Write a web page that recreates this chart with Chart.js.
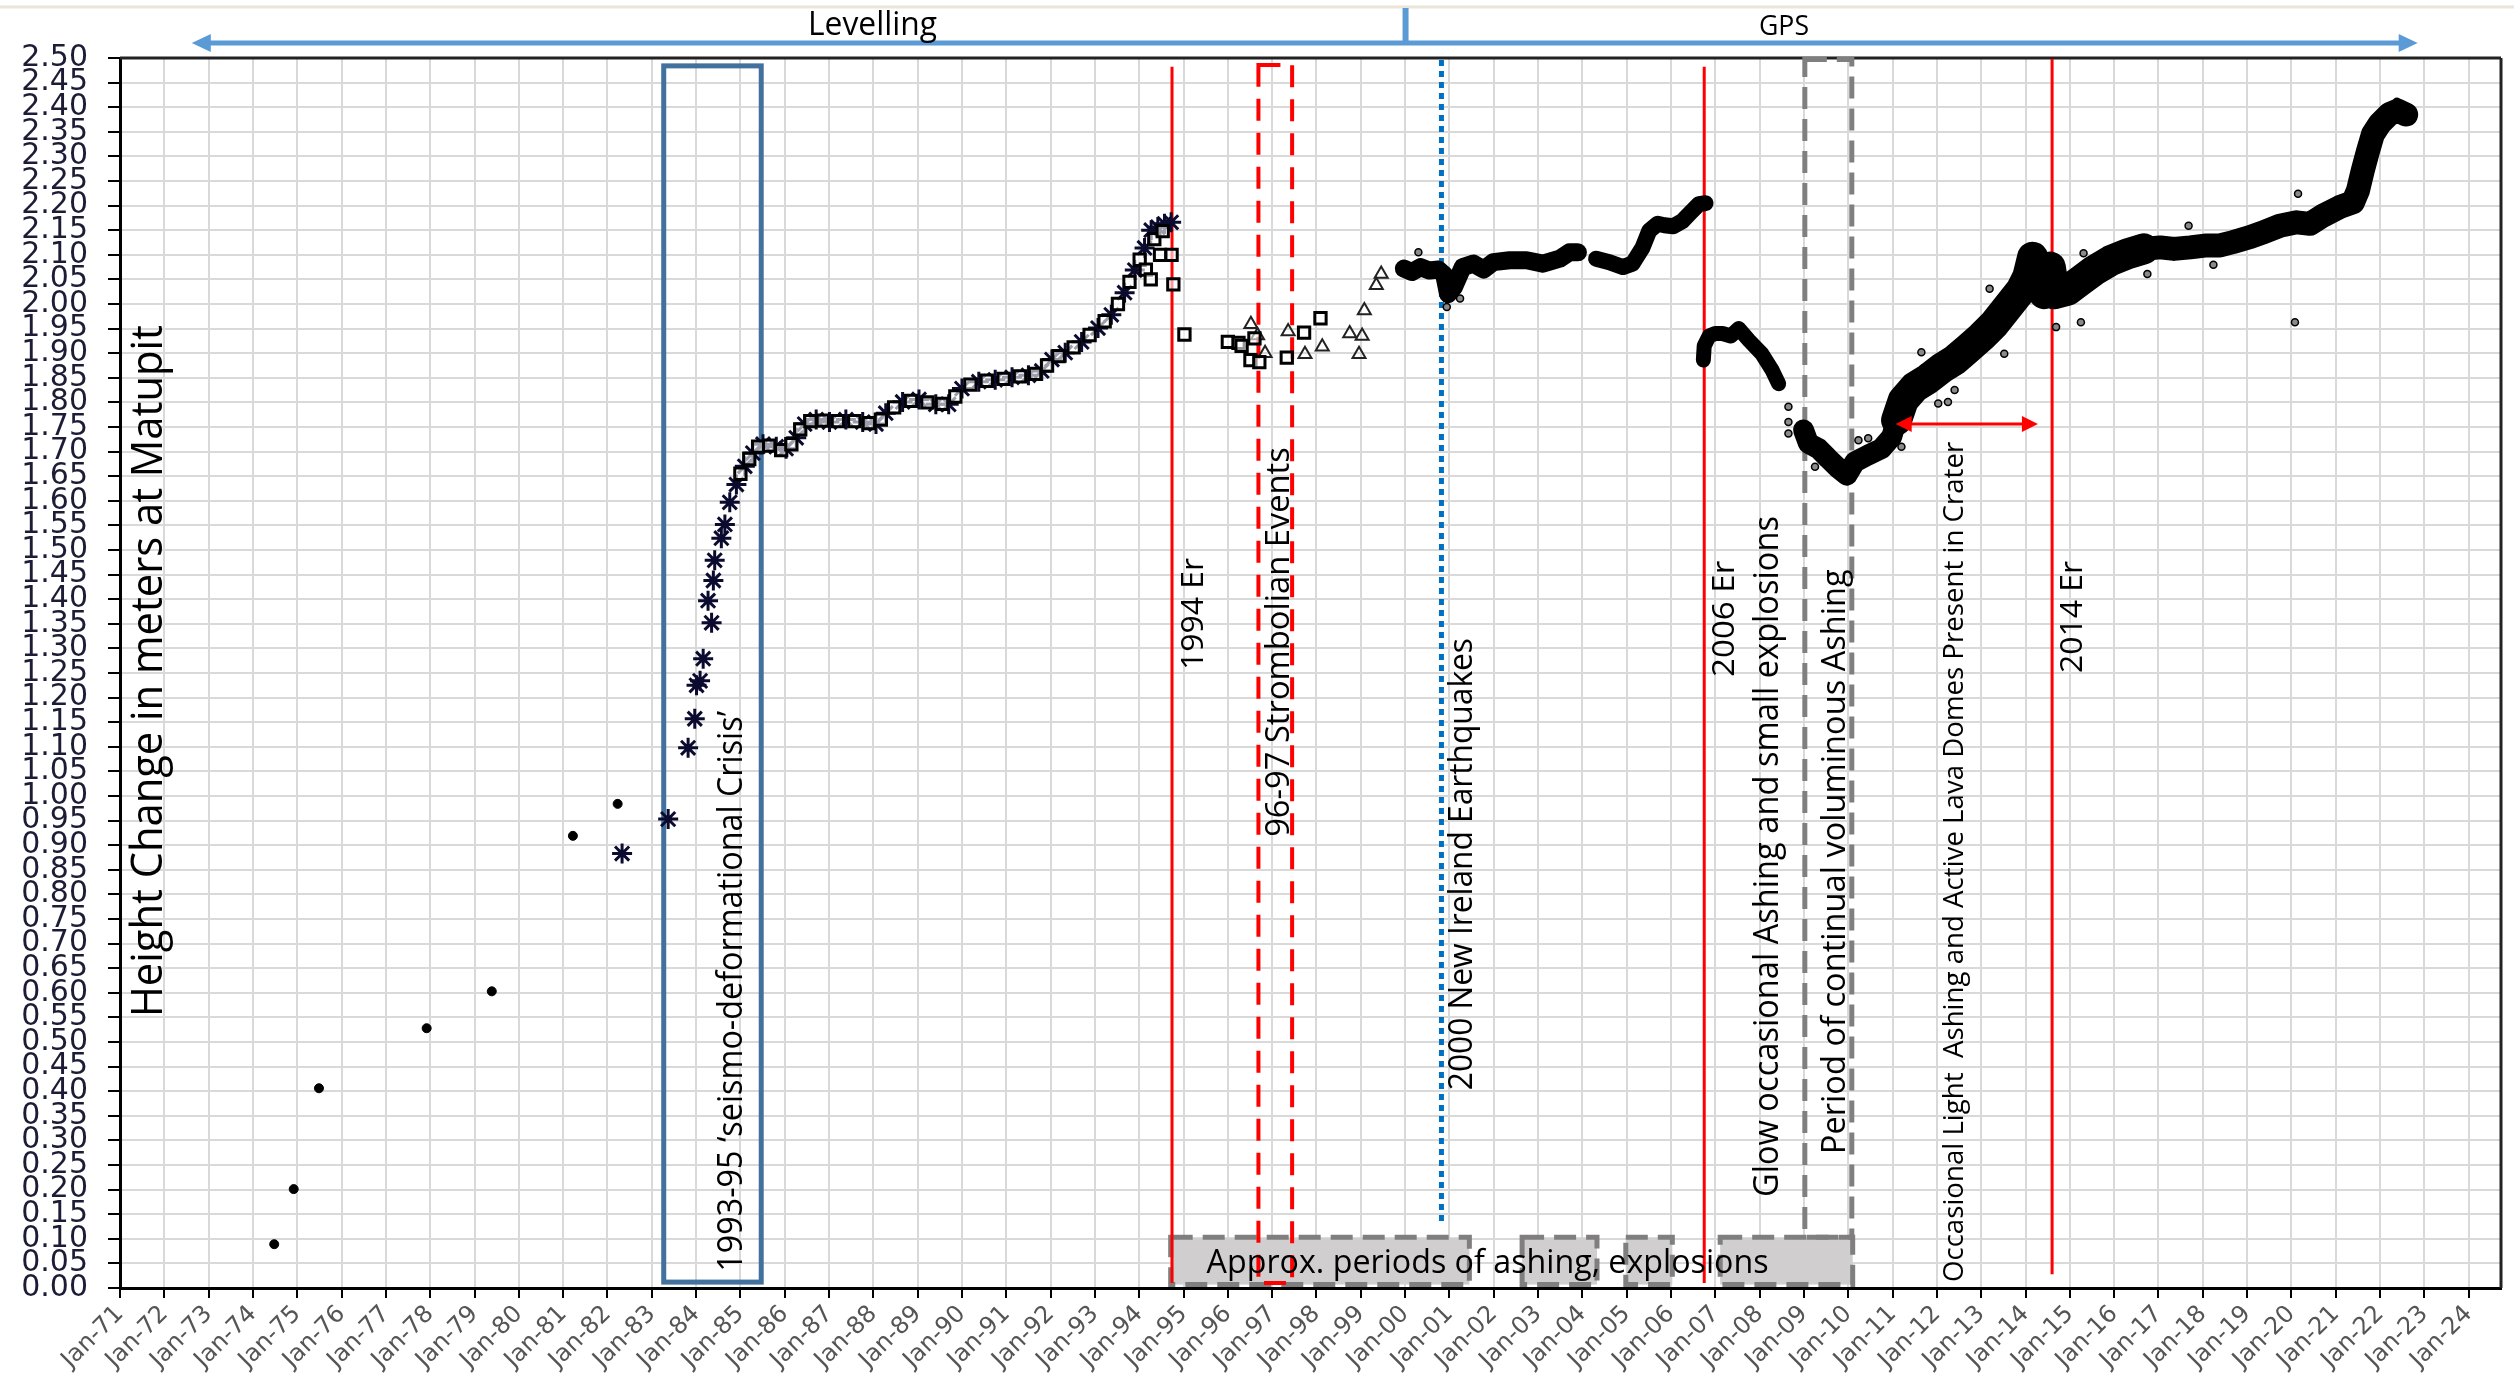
<!DOCTYPE html>
<html>
<head>
<meta charset="utf-8">
<script src="https://cdn.jsdelivr.net/npm/chart.js@4.4.1/dist/chart.umd.min.js"></script>
<style>
  html, body { margin: 0; padding: 0; background: #fff; }
  canvas { display: block; }
</style>
</head>
<body>
<canvas id="chart" width="2514" height="1385"></canvas>
<script>
// tick labels
const xTickLabels = ['Jan-71','Jan-72','Jan-73','Jan-74','Jan-75','Jan-76','Jan-77','Jan-78','Jan-79','Jan-80',
  'Jan-81','Jan-82','Jan-83','Jan-84','Jan-85','Jan-86','Jan-87','Jan-88','Jan-89','Jan-90',
  'Jan-91','Jan-92','Jan-93','Jan-94','Jan-95','Jan-96','Jan-97','Jan-98','Jan-99','Jan-00',
  'Jan-01','Jan-02','Jan-03','Jan-04','Jan-05','Jan-06','Jan-07','Jan-08','Jan-09','Jan-10',
  'Jan-11','Jan-12','Jan-13','Jan-14','Jan-15','Jan-16','Jan-17','Jan-18','Jan-19','Jan-20',
  'Jan-21','Jan-22','Jan-23','Jan-24'];
const yTickLabels = ['0.00','0.05','0.10','0.15','0.20','0.25','0.30','0.35','0.40','0.45',
  '0.50','0.55','0.60','0.65','0.70','0.75','0.80','0.85','0.90','0.95',
  '1.00','1.05','1.10','1.15','1.20','1.25','1.30','1.35','1.40','1.45',
  '1.50','1.55','1.60','1.65','1.70','1.75','1.80','1.85','1.90','1.95',
  '2.00','2.05','2.10','2.15','2.20','2.25','2.30','2.35','2.40','2.45','2.50'];

// early levelling (dots)
const levYears = [1974.48, 1974.92, 1975.49, 1977.92, 1979.39, 1981.22, 1982.23];
const levVals  = [0.089, 0.201, 0.406, 0.528, 0.603, 0.919, 0.984];

// levelling asterisks
const starYears = [1982.33, 1983.37, 1983.82, 1983.97, 1984.01, 1984.09, 1984.16, 1984.27, 1984.35, 1984.39,
  1984.42, 1984.57, 1984.65, 1984.76, 1984.91, 1985.10, 1985.28, 1985.51, 1985.81, 1986.03,
  1986.26, 1986.45, 1986.71, 1987.01, 1987.38, 1987.76, 1988.06, 1988.28, 1988.66, 1989.03,
  1989.41, 1989.70, 1990.00, 1990.38, 1990.75, 1991.13, 1991.50, 1991.80, 1992.03, 1992.33,
  1992.70, 1993.07, 1993.37, 1993.67, 1993.90, 1994.12, 1994.27, 1994.42, 1994.57, 1994.72];
const starVals = [0.883, 0.953, 1.098, 1.157, 1.225, 1.234, 1.279, 1.397, 1.352, 1.438,
  1.479, 1.524, 1.552, 1.597, 1.633, 1.670, 1.697, 1.715, 1.710, 1.706,
  1.728, 1.756, 1.765, 1.760, 1.765, 1.760, 1.756, 1.778, 1.801, 1.806,
  1.796, 1.796, 1.828, 1.842, 1.846, 1.851, 1.855, 1.864, 1.887, 1.901,
  1.923, 1.951, 1.978, 2.023, 2.069, 2.114, 2.150, 2.156, 2.163, 2.166];

// levelling squares
const sqYears = [1985.00, 1985.20, 1985.40, 1985.65, 1985.92, 1986.15, 1986.35, 1986.58, 1986.86, 1987.20,
  1987.57, 1987.90, 1988.17, 1988.47, 1988.85, 1989.22, 1989.55, 1989.85, 1990.19, 1990.56,
  1990.94, 1991.31, 1991.65, 1991.92, 1992.18, 1992.52, 1992.88, 1993.22, 1993.52, 1993.78,
  1994.01, 1994.15, 1994.26, 1994.34, 1994.47, 1994.53, 1994.73, 1994.77,
  1995.02, 1996.00, 1996.24, 1996.31, 1996.51, 1996.60, 1996.71, 1997.33, 1997.72, 1998.09];
const sqVals = [1.655, 1.685, 1.710, 1.712, 1.703, 1.715, 1.745, 1.762, 1.763, 1.762,
  1.762, 1.758, 1.765, 1.790, 1.803, 1.800, 1.797, 1.812, 1.836, 1.844,
  1.848, 1.853, 1.858, 1.875, 1.894, 1.912, 1.937, 1.965, 2.000, 2.045,
  2.090, 2.070, 2.050, 2.132, 2.100, 2.148, 2.100, 2.040,
  1.938, 1.923, 1.921, 1.915, 1.886, 1.930, 1.882, 1.891, 1.942, 1.971];

// triangles 1996-1999
const triYears = [1996.52, 1996.67, 1996.84, 1997.36, 1997.74, 1998.13, 1998.75, 1998.96, 1999.03, 1999.08, 1999.35, 1999.46];
const triVals  = [1.959, 1.936, 1.900, 1.944, 1.898, 1.913, 1.940, 1.898, 1.935, 1.987, 2.038, 2.061];

// GPS segments
const gpsAYears = [1999.97, 2000.15, 2000.35, 2000.55, 2000.75, 2000.88, 2000.97, 2001.10, 2001.30, 2001.54,
  2001.77, 2001.99, 2002.36, 2002.74, 2003.11, 2003.49, 2003.71, 2003.90];
const gpsAVals = [2.072, 2.065, 2.075, 2.068, 2.070, 2.060, 2.020, 2.034, 2.075, 2.082,
  2.070, 2.085, 2.089, 2.089, 2.082, 2.092, 2.105, 2.105];

const gpsBYears = [2004.31, 2004.61, 2004.91, 2005.13, 2005.36, 2005.51, 2005.70, 2005.85, 2006.05, 2006.25, 2006.41, 2006.63, 2006.78];
const gpsBVals  = [2.092, 2.085, 2.075, 2.082, 2.115, 2.149, 2.163, 2.160, 2.158, 2.168, 2.183, 2.203, 2.205];

const gpsCYears = [2006.73, 2006.75, 2006.86, 2007.00, 2007.16, 2007.35, 2007.53, 2007.76, 2008.05, 2008.28, 2008.43];
const gpsCVals  = [1.886, 1.915, 1.935, 1.940, 1.940, 1.935, 1.950, 1.926, 1.899, 1.866, 1.838];

const gpsD1Years = [2008.99, 2009.10, 2009.33, 2009.55, 2009.78, 2009.97, 2010.15, 2010.45, 2010.75, 2010.98, 2011.09];
const gpsD1Vals  = [1.744, 1.717, 1.706, 1.686, 1.666, 1.652, 1.679, 1.693, 1.706, 1.730, 1.764];

const gpsD2Years = [2011.09, 2011.24, 2011.50, 2011.80, 2012.10, 2012.40, 2012.70, 2013.00, 2013.30, 2013.60,
  2013.90, 2014.05, 2014.16, 2014.27, 2014.42, 2014.56, 2014.65, 2014.95, 2015.25, 2015.55,
  2015.92, 2016.30, 2016.67];
const gpsD2Vals = [1.764, 1.804, 1.831, 1.848, 1.869, 1.886, 1.909, 1.933, 1.960, 1.994,
  2.028, 2.055, 2.095, 2.048, 2.021, 2.075, 2.021, 2.028, 2.048, 2.068,
  2.088, 2.102, 2.112];

const gpsEYears = [2016.67, 2017.04, 2017.35, 2017.72, 2018.09, 2018.39, 2018.69, 2019.07, 2019.37, 2019.74,
  2020.12, 2020.42, 2020.72, 2021.09, 2021.39, 2021.50, 2021.61, 2021.73, 2021.84, 2021.99,
  2022.21, 2022.40, 2022.59];
const gpsEVals = [2.112, 2.115, 2.112, 2.115, 2.119, 2.119, 2.126, 2.136, 2.146, 2.159,
  2.166, 2.163, 2.180, 2.197, 2.207, 2.230, 2.271, 2.311, 2.345, 2.366,
  2.386, 2.393, 2.385];

// scattered GPS points off the main trend
const gpsOutYears = [2000.30, 2000.94, 2001.24, 2008.65, 2008.65, 2008.65, 2009.25, 2010.23, 2010.45, 2011.20,
  2011.28, 2011.65, 2011.69, 2012.03, 2012.25, 2012.40, 2013.19, 2013.52, 2013.64, 2014.69,
  2015.25, 2015.31, 2015.51, 2016.75, 2017.68, 2018.24, 2020.08, 2020.15, 2022.38];
const gpsOutVals = [2.105, 1.994, 2.011, 1.791, 1.760, 1.737, 1.669, 1.723, 1.727, 1.710,
  1.838, 1.902, 1.869, 1.798, 1.801, 1.825, 2.031, 1.899, 2.031, 1.953,
  1.963, 2.103, 2.088, 2.061, 2.159, 2.080, 1.963, 2.224, 2.411];

const pts = (xs, ys) => xs.map((x, i) => ({ x: x, y: ys[i] }));

// overlays, in axis units
const erLines = [1994.74, 2006.75, 2014.60];
const ashBoxes = [[1994.71, 2001.45], [2002.64, 2004.33], [2004.98, 2006.03], [2007.11, 2010.10]];
const vText = [
  { t: '1993-95 \u2018seismo-deformational Crisis\u2019', x: 1985.04, v0: 0.033, v1: 1.173, s: 34 },
  { t: '1994 Er', x: 1995.43, v0: 1.256, v1: 1.484, s: 31 },
  { t: '96-97 Strombolian Events', x: 1997.38, v0: 0.917, v1: 1.709, s: 32 },
  { t: '2000 New Ireland Earthquakes', x: 2001.50, v0: 0.402, v1: 1.321, s: 32 },
  { t: '2006 Er', x: 2007.43, v0: 1.242, v1: 1.478, s: 31 },
  { t: 'Glow occasional Ashing and small explosions', x: 2008.42, v0: 0.185, v1: 1.569, s: 34 },
  { t: 'Period of continual voluminous Ashing', x: 2009.92, v0: 0.272, v1: 1.461, s: 33 },
  { t: 'Occasional Light  Ashing and Active Lava Domes Present in Crater', x: 2012.60, v0: 0.012, v1: 1.720, s: 28 },
  { t: '2014 Er', x: 2015.27, v0: 1.250, v1: 1.478, s: 31 },
  { t: 'Height Change in meters at Matupit', x: 1971.94, v0: 0.551, v1: 1.957, s: 44 }
];

function drawText(ctx, str, x, y, size, len, rot) {
  ctx.save();
  ctx.font = size + 'px "Open Sans"';
  const w = ctx.measureText(str).width;
  ctx.translate(x, y);
  if (rot) ctx.rotate(-Math.PI / 2);
  ctx.scale(len / w, 1);
  ctx.fillStyle = '#000';
  ctx.textAlign = 'left';
  ctx.textBaseline = 'alphabetic';
  ctx.fillText(str, 0, 0);
  ctx.restore();
}

function seg(ctx, x0, y0, x1, y1, color, width, dash) {
  ctx.save();
  ctx.strokeStyle = color;
  ctx.lineWidth = width;
  ctx.setLineDash(dash || []);
  ctx.beginPath();
  ctx.moveTo(x0, y0);
  ctx.lineTo(x1, y1);
  ctx.stroke();
  ctx.restore();
}

function box(ctx, x0, y0, x1, y1, color, width, dash, fill) {
  ctx.save();
  if (fill) {
    ctx.fillStyle = fill;
    ctx.fillRect(x0, y0, x1 - x0, y1 - y0);
  }
  ctx.strokeStyle = color;
  ctx.lineWidth = width;
  ctx.setLineDash(dash || []);
  ctx.strokeRect(x0, y0, x1 - x0, y1 - y0);
  ctx.restore();
}

function arrowHead(ctx, x, y, dir, len, half, color) {
  ctx.save();
  ctx.fillStyle = color;
  ctx.beginPath();
  ctx.moveTo(x, y);
  ctx.lineTo(x - dir * len, y - half);
  ctx.lineTo(x - dir * len, y + half);
  ctx.closePath();
  ctx.fill();
  ctx.restore();
}

const overlays = {
  id: 'overlays',
  beforeDatasetsDraw(chart) {
    const ctx = chart.ctx;
    const X = v => chart.scales.x.getPixelForValue(v);
    const Y = v => chart.scales.y.getPixelForValue(v);
    const a = chart.chartArea;

    // plot frame top / right
    seg(ctx, a.left, a.top, a.right, a.top, '#222', 3);
    seg(ctx, a.right, a.top, a.right, a.bottom, '#222', 3);

    // ashing periods
    ashBoxes.forEach(b => box(ctx, X(b[0]), Y(0.103), X(b[1]), Y(0.007), '#7f7f7f', 5, [22, 10], '#d0cece'));
    // continual ashing column
    box(ctx, X(2009.02), Y(2.497), X(2010.08), Y(0.103), '#7f7f7f', 5, [22, 10]);

    // crisis box
    box(ctx, X(1983.27), Y(2.484), X(1985.47), Y(0.012), '#41719c', 5);
    // strombolian box
    box(ctx, X(1996.69), Y(2.486), X(1997.45), Y(0.010), '#ff0000', 4, [22, 12]);
    // eruptions
    erLines.forEach((e, i) => seg(ctx, X(e), Y(i === 2 ? 2.498 : 2.482), X(e), Y(i === 2 ? 0.028 : 0.010), '#ff0000', 3));
    // New Ireland earthquakes
    seg(ctx, X(2000.82), Y(2.496), X(2000.82), Y(0.132), '#0070c0', 5, [6, 5]);
  },
  afterDatasetsDraw(chart) {
    const ctx = chart.ctx;
    const X = v => chart.scales.x.getPixelForValue(v);
    const Y = v => chart.scales.y.getPixelForValue(v);
    const a = chart.chartArea;

    // lava dome arrow
    const ay = Y(1.756);
    seg(ctx, X(2011.07) + 12, ay, X(2014.28) - 12, ay, '#ff0000', 3);
    arrowHead(ctx, X(2011.07), ay, -1, 16, 8, '#ff0000');
    arrowHead(ctx, X(2014.28), ay, 1, 16, 8, '#ff0000');

    vText.forEach(t => {
      const y0 = Y(t.v0);
      drawText(ctx, t.t, X(t.x), y0, t.s, y0 - Y(t.v1), true);
    });
    drawText(ctx, 'Approx. periods of ashing, explosions', X(1995.52), Y(0.030), 33, 562, false);

    // top band: levelling / GPS
    seg(ctx, 0, 7, chart.width, 7, '#ece3d9', 3);
    const ty = a.top - 15;
    seg(ctx, X(1972.62) + 14, ty, X(2022.85) - 14, ty, '#5b9bd5', 5);
    arrowHead(ctx, X(1972.62), ty, -1, 19, 9, '#5b9bd5');
    arrowHead(ctx, X(2022.85), ty, 1, 19, 9, '#5b9bd5');
    seg(ctx, X(2000.01), 8, X(2000.01), ty + 2, '#5b9bd5', 6);
    drawText(ctx, 'Levelling', X(1987.97) - 64, a.top - 23, 32, 129, false);
    drawText(ctx, 'GPS', X(2008.55) - 25, a.top - 23, 27, 50, false);
  }
};

function band(xs, ys, w) {
  return {
    data: pts(xs, ys),
    showLine: true,
    borderColor: '#000',
    borderWidth: w,
    borderJoinStyle: 'round',
    borderCapStyle: 'round',
    pointRadius: 0,
    tension: 0
  };
}

const chart = new Chart(document.getElementById('chart'), {
  type: 'scatter',
  data: {
    datasets: [
      { data: pts(levYears, levVals), pointStyle: 'circle', pointRadius: 4.5, backgroundColor: '#000', borderColor: '#000', borderWidth: 1 },
      band(gpsAYears, gpsAVals, 18),
      band(gpsBYears, gpsBVals, 16),
      band(gpsCYears, gpsCVals, 15),
      band(gpsD1Years, gpsD1Vals, 21),
      band(gpsD2Years, gpsD2Vals, 31),
      band(gpsEYears, gpsEVals, 24),
      { data: pts(gpsOutYears, gpsOutVals), pointStyle: 'circle', pointRadius: 3.5, backgroundColor: '#8a8a8a', borderColor: '#000', borderWidth: 1.5 },
      { data: pts(sqYears, sqVals), pointStyle: 'rect', pointRadius: 8, backgroundColor: 'rgba(255,255,255,0.6)', borderColor: '#000', borderWidth: 3 },
      { data: pts(triYears, triVals), pointStyle: 'triangle', pointRadius: 7.5, backgroundColor: 'rgba(255,255,255,0)', borderColor: '#222', borderWidth: 2 },
      { data: pts(starYears, starVals), pointStyle: 'star', pointRadius: 10, backgroundColor: '#0b0b30', borderColor: '#0b0b30', borderWidth: 3 }
    ]
  },
  options: {
    responsive: false,
    animation: false,
    devicePixelRatio: 1,
    layout: { padding: { top: 58, right: 0, left: 0, bottom: 0 } },
    plugins: { legend: { display: false }, tooltip: { enabled: false } },
    scales: {
      x: {
        type: 'linear',
        min: 1971,
        max: 2024.73,
        afterBuildTicks: sc => { sc.ticks = xTickLabels.map((l, i) => ({ value: 1971 + i })); },
        afterFit: sc => { sc.height = 97; },
        ticks: {
          autoSkip: false,
          minRotation: 45,
          maxRotation: 45,
          padding: 2,
          color: '#555',
          font: { family: 'DejaVu Sans', size: 24 },
          callback: (v, i) => xTickLabels[i]
        },
        grid: { color: '#d9d9d9', lineWidth: 2, tickColor: '#000', tickLength: 10, tickWidth: 2 },
        border: { color: '#000', width: 3 }
      },
      y: {
        min: 0,
        max: 2.5,
        afterBuildTicks: sc => { sc.ticks = yTickLabels.map(l => ({ value: parseFloat(l) })); },
        afterFit: sc => { sc.width = 120; },
        ticks: {
          autoSkip: false,
          padding: 20,
          color: '#1c1c36',
          font: { family: 'DejaVu Sans', size: 30 },
          callback: (v, i) => yTickLabels[i]
        },
        grid: { color: '#d9d9d9', lineWidth: 2, tickColor: '#000', tickLength: 12, tickWidth: 2 },
        border: { color: '#000', width: 3 }
      }
    }
  },
  plugins: [overlays]
});
</script>
</body>
</html>
